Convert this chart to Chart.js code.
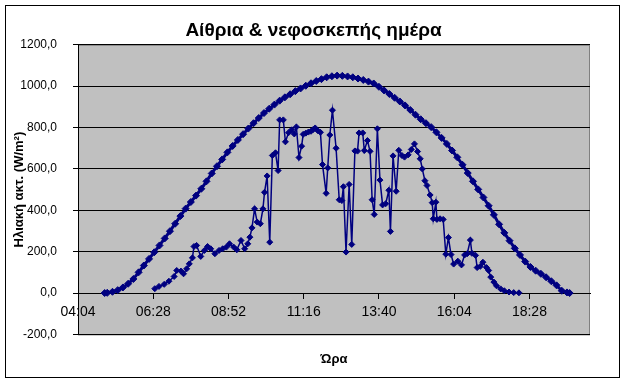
<!DOCTYPE html>
<html>
<head>
<meta charset="utf-8">
<script src="https://cdn.jsdelivr.net/npm/chart.js@4.4.1/dist/chart.umd.min.js"></script>
<style>
  body { margin: 0; background: #fff; }
  canvas { display: block; }
</style>
</head>
<body>
<canvas id="myChart" width="627" height="383"></canvas>
<script>
// clear day (W/m2)
const clearTime = ['04:55','05:00','05:10','05:20','05:30','05:40','05:50','06:00','06:10','06:20','06:30','06:40','06:50',
  '07:00','07:10','07:20','07:30','07:40','07:50','08:00','08:10','08:20','08:30','08:40','08:50',
  '09:00','09:10','09:20','09:30','09:40','09:50','10:00','10:10','10:20','10:30','10:40','10:50',
  '11:00','11:10','11:20','11:30','11:40','11:50','12:00','12:10','12:20','12:30','12:40','12:50',
  '13:00','13:10','13:20','13:30','13:40','13:50','14:00','14:10','14:20','14:30','14:40','14:50',
  '15:00','15:10','15:20','15:30','15:40','15:50','16:00','16:10','16:20','16:30','16:40','16:50',
  '17:00','17:10','17:20','17:30','17:40','17:50','18:00','18:10','18:20','18:30','18:40','18:50',
  '19:00','19:10','19:20','19:30','19:40','19:45']
const clearValue = [0,1,6,14,27,45,68,100,133,165,197,230,264,
  299,335,372,408,440,471,504,540,578,613,646,680,
  711,740,768,795,821,846,870,891,911,930,946,961,
  976,989,1002,1014,1025,1034,1043,1048,1051,1050,1047,1043,
  1037,1030,1022,1013,997,979,962,944,926,907,885,862,
  840,821,802,777,750,721,689,656,620,580,540,501,
  462,422,378,332,291,253,216,184,152,126,108,93,
  76,57,37,11,3,0]

// cloudy day
const cloudyTime = ['06:31','06:39','06:49','06:58','07:08','07:13','07:21','07:26','07:32','07:37','07:43','07:46','07:51','07:59',
  '08:06','08:12','08:18','08:26','08:34','08:41','08:48','08:54','09:02','09:08','09:16','09:23','09:29','09:33','09:37','09:42',
  '09:47','09:53','09:58','10:01','10:06','10:11','10:16','10:22','10:27','10:30','10:37','10:41','10:47','10:53','10:58',
  '11:02','11:07','11:12','11:15','11:20','11:25','11:30','11:34','11:38','11:43','11:48','11:52','11:59','12:02','12:06',
  '12:11','12:18','12:24','12:29','12:32','12:37','12:43','12:48','12:54','12:59','13:02','13:09','13:12','13:18','13:23',
  '13:27','13:31','13:37','13:42','13:47','13:53','13:59','14:02','14:07','14:13','14:18','14:24','14:29','14:36','14:42',
  '14:48','14:54','14:59','15:03','15:08','15:12','15:18','15:22','15:24','15:29','15:31','15:37','15:43','15:48','15:53',
  '15:58','16:03','16:11','16:18','16:24','16:29','16:35','16:38','16:45','16:48','16:54','16:59','17:06','17:10','17:14',
  '17:20','17:25','17:33','17:40','17:49','17:58','18:08']
const cloudyValue = [21,32,42,57,80,109,106,93,117,141,170,225,230,177,
  206,225,214,190,206,214,222,238,222,209,254,214,238,270,315,407,
  343,335,407,487,566,246,665,678,592,837,837,731,775,789,769,
  803,655,710,767,773,778,782,790,798,785,777,621,482,605,764,
  884,700,451,447,514,198,525,235,687,686,774,774,689,737,685,
  451,380,794,546,426,432,497,298,663,492,690,665,657,668,694,
  721,684,649,600,543,520,474,437,359,439,356,359,356,188,268,
  186,140,154,136,184,190,256,192,182,123,129,149,123,109,77,
  53,35,20,11,5,2,1]

const xTickLabels = ['04:04','06:28','08:52','11:16','13:40','16:04','18:28']
const xEnd = '20:24'
const yMin = -200
const yMax = 1200
const yStep = 200

function toMinutes(t) {
  var p = t.split(':')
  return parseInt(p[0], 10) * 60 + parseInt(p[1], 10)
}
function toClock(m) {
  m = Math.floor(m + 0.001)
  var h = Math.floor(m / 60), mm = m % 60
  return (h < 10 ? '0' : '') + h + ':' + (mm < 10 ? '0' : '') + mm
}
function pairs(times, values) {
  var out = []
  for (var i = 0; i < times.length; i++) out.push({ x: toMinutes(times[i]), y: values[i] })
  return out
}

const navy = '#000080'
Chart.defaults.font.family = "'Liberation Sans', Arial, sans-serif"
Chart.defaults.color = '#000'

const frame = {
  id: 'frame',
  beforeDraw(chart) {
    const ctx = chart.ctx, a = chart.chartArea
    ctx.save()
    ctx.fillStyle = '#fff'
    ctx.fillRect(0, 0, chart.width, chart.height)
    ctx.fillStyle = '#c0c0c0'
    ctx.fillRect(a.left, a.top, a.right - a.left, a.bottom - a.top)
    ctx.strokeStyle = '#808080'
    ctx.lineWidth = 1
    ctx.strokeRect(a.left + 0.5, a.top + 0.5, a.right - a.left - 1, a.bottom - a.top)
    ctx.strokeStyle = '#000'
    ctx.strokeRect(5.5, 5.5, 614, 372)
    ctx.restore()
  }
}

new Chart(document.getElementById('myChart'), {
  type: 'scatter',
  data: {
    datasets: [{
      label: 'Αίθρια',
      data: pairs(clearTime, clearValue),
      showLine: true,
      borderColor: navy,
      backgroundColor: navy,
      borderWidth: 3,
      pointStyle: 'rectRot',
      pointRadius: 3.5,
      pointBorderWidth: 1
    },
    {
      label: 'Νεφοσκεπής',
      data: pairs(cloudyTime, cloudyValue),
      showLine: true,
      borderColor: navy,
      backgroundColor: navy,
      borderWidth: 1.5,
      pointStyle: 'rectRot',
      pointRadius: 3,
      pointBorderWidth: 1
    }]
  },
  options: {
    responsive: false,
    animation: false,
    devicePixelRatio: 1,
    layout: { padding: 0 },
    plugins: {
      legend: { display: false },
      tooltip: { enabled: false },
      title: {
        display: true,
        text: 'Αίθρια & νεφοσκεπής ημέρα',
        font: { size: 19, weight: 'bold' },
        padding: { top: 19, bottom: 3 }
      },
      subtitle: {
        display: true,
        position: 'bottom',
        fullSize: false,
        text: 'Ώρα',
        font: { size: 13, weight: 'bold' },
        padding: { top: 17, bottom: 16 }
      }
    },
    scales: {
      x: {
        type: 'linear',
        position: { y: 0 },
        min: toMinutes(xTickLabels[0]),
        max: toMinutes(xEnd),
        afterBuildTicks: function (scale) {
          scale.ticks = xTickLabels.map(function (l) { return { value: toMinutes(l) } })
        },
        ticks: {
          font: { size: 14 },
          padding: 6,
          maxRotation: 0,
          autoSkip: false,
          callback: function (v) { return toClock(v) }
        },
        grid: { drawOnChartArea: false, drawTicks: true, tickLength: 5, color: '#000' },
        border: { display: true, color: '#000' }
      },
      y: {
        position: 'left',
        min: yMin,
        max: yMax,
        afterFit: function (scale) { scale.width = 78 },
        ticks: {
          stepSize: yStep,
          font: { size: 12 },
          padding: 16,
          callback: function (v) { return v.toFixed(1).replace('.', ',') }
        },
        grid: { color: '#000', lineWidth: 1, tickLength: 5 },
        border: { display: true, color: '#000' },
        title: {
          display: true,
          text: 'Ηλιακή ακτ. (W/m²)',
          font: { size: 13, weight: 'bold' },
          padding: { top: 12, bottom: 0 }
        }
      },
      // empty right margin so the plot ends where the reference does
      yRight: {
        position: 'right',
        min: yMin,
        max: yMax,
        afterFit: function (scale) { scale.width = 37 },
        ticks: { display: false },
        grid: { display: false },
        border: { display: false }
      }
    }
  },
  plugins: [frame]
})
</script>
</body>
</html>
